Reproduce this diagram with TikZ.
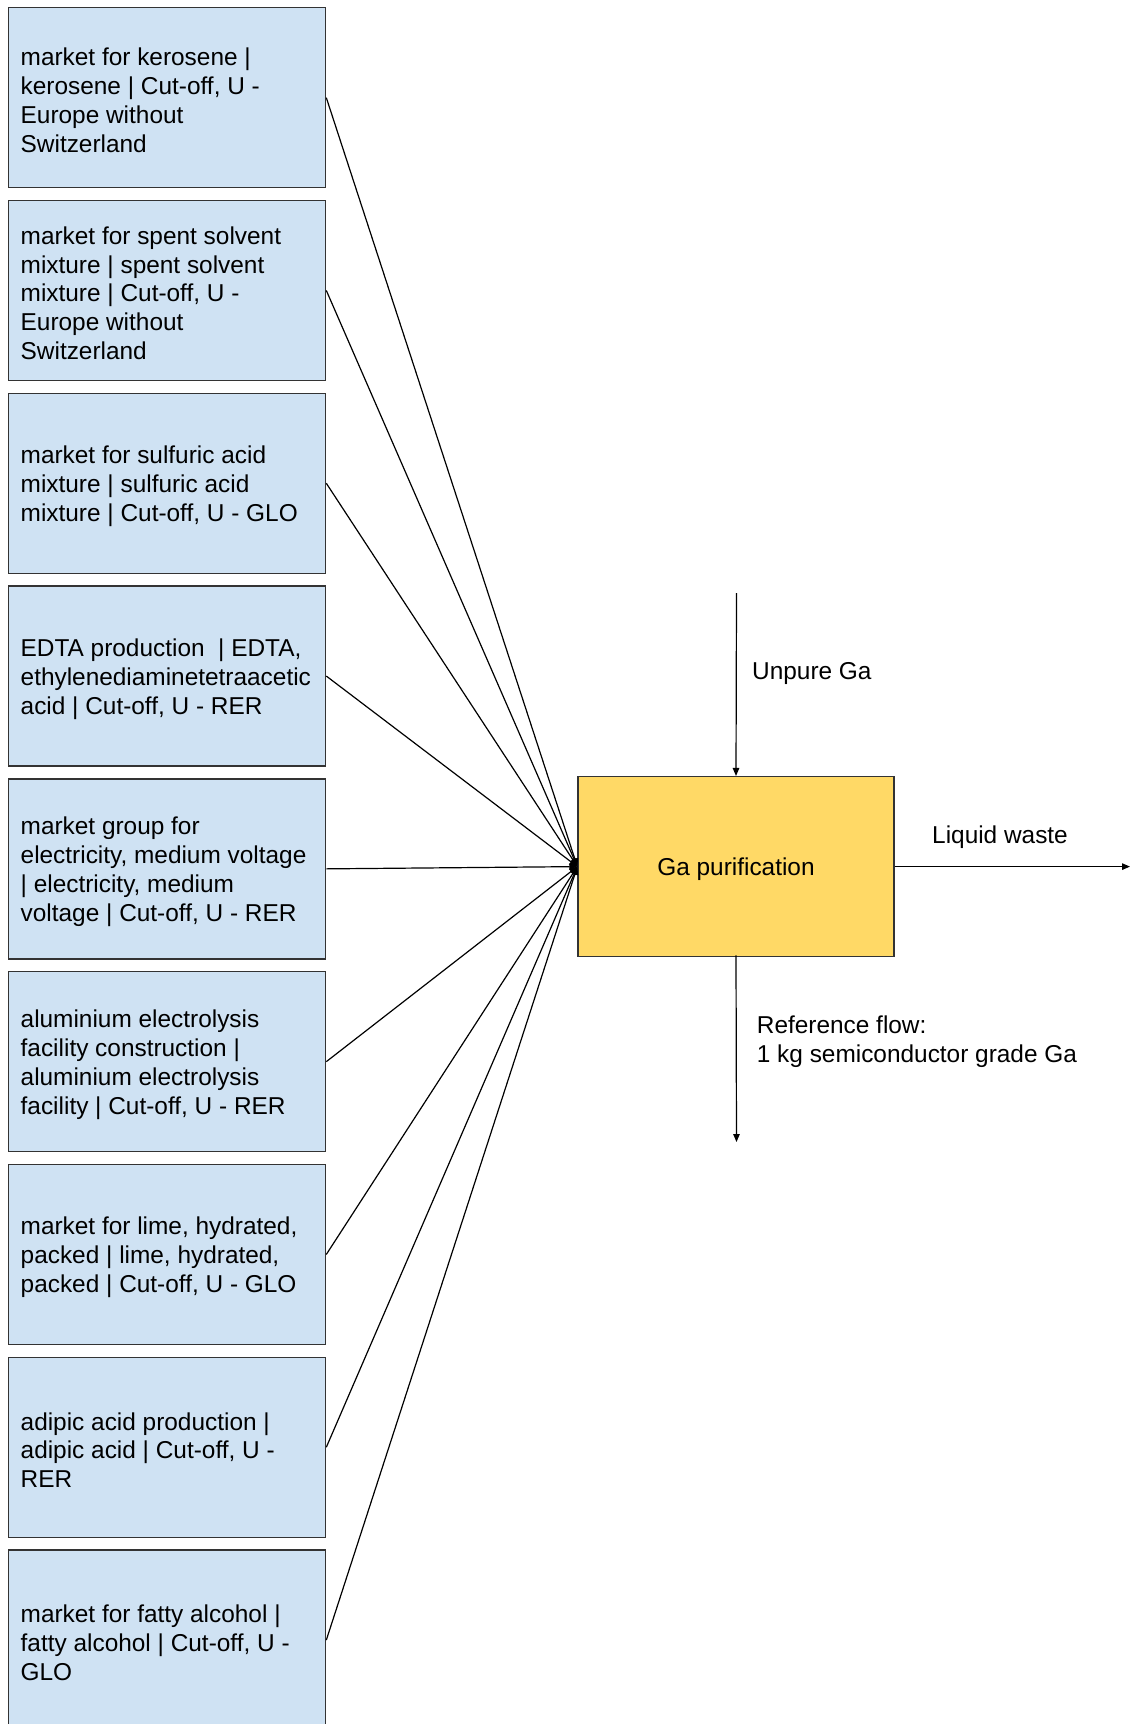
\documentclass[tikz,border=0pt]{standalone}
\usepackage{fontspec}
\setmainfont{Liberation Sans}
\usetikzlibrary{arrows.meta}
\definecolor{inputfill}{HTML}{CFE2F3}
\definecolor{procfill}{HTML}{FFD966}
\definecolor{boxline}{HTML}{333333}
\begin{document}
\begin{tikzpicture}[x=1pt,y=-1pt,
  txt/.style={font=\fontsize{24.4}{28.9}\selectfont, text=black},
  inputbox/.style={draw=boxline, fill=inputfill, line width=1.3pt,
    minimum width=317pt, minimum height=180pt, inner sep=0pt, anchor=north west},
  inputtext/.style={txt, align=left, anchor=west, inner sep=0pt},
  procbox/.style={draw=boxline, fill=procfill, line width=1.3pt,
    minimum width=316pt, minimum height=180pt, inner sep=0pt, txt},
  flow/.style={draw=black, line width=1.2pt, -{Triangle[length=8pt,width=6.5pt]}},
  flowlabel/.style={txt, align=left, inner sep=0pt}]
\useasboundingbox (0,0) rectangle (1131,1724);

% input processes, stacked on the left
\foreach \i/\t in {%
  1/{market for kerosene |\\kerosene | Cut-off, U -\\Europe without\\Switzerland},
  2/{market for spent solvent\\mixture | spent solvent\\mixture | Cut-off, U -\\Europe without\\Switzerland},
  3/{market for sulfuric acid\\mixture | sulfuric acid\\mixture | Cut-off, U - GLO},
  4/{EDTA production \ | EDTA,\\ethylenediaminetetraacetic\\acid | Cut-off, U - RER},
  5/{market group for\\electricity, medium voltage\\| electricity, medium\\voltage | Cut-off, U - RER},
  6/{aluminium electrolysis\\facility construction |\\aluminium electrolysis\\facility | Cut-off, U - RER},
  7/{market for lime, hydrated,\\packed | lime, hydrated,\\packed | Cut-off, U - GLO},
  8/{adipic acid production |\\adipic acid | Cut-off, U -\\RER},
  9/{market for fatty alcohol |\\fatty alcohol | Cut-off, U -\\GLO}} {
  \node[inputbox] (b\i) at (8, {7 + (\i-1)*192.8}) {};
  \node[inputtext] (t\i) at ([xshift=12.5pt,yshift=-2.8pt]b\i.west) {\t};
}

% central process
\node[procbox, text depth=0pt] (ga) at (736, 866.6) {Ga purification};

% inputs converge on the process
\foreach \i in {1,...,9} {
  \draw[flow] (b\i.east) -- (ga.west);
}

% raw material in
\coordinate (unpureStart) at (736.5, 593);
\draw[flow] (unpureStart) -- (ga.north);
\node[flowlabel, anchor=west, text depth=0pt] (unpureLbl) at (752, 671) {Unpure Ga};

% waste out
\coordinate (wasteEnd) at (1130, 866.6);
\draw[flow] (ga.east) -- (wasteEnd);
\node[flowlabel, anchor=west, text depth=0pt] (wasteLbl) at (932, 835) {Liquid waste};

% product out
\coordinate (refEnd) at (736.5, 1142);
\draw[flow] ([yshift=2pt]ga.south) -- (refEnd);
\node[flowlabel, anchor=north west] (refLbl) at (756.7, 1016)
  {Reference flow:\\1 kg semiconductor grade Ga};
\end{tikzpicture}
\end{document}
